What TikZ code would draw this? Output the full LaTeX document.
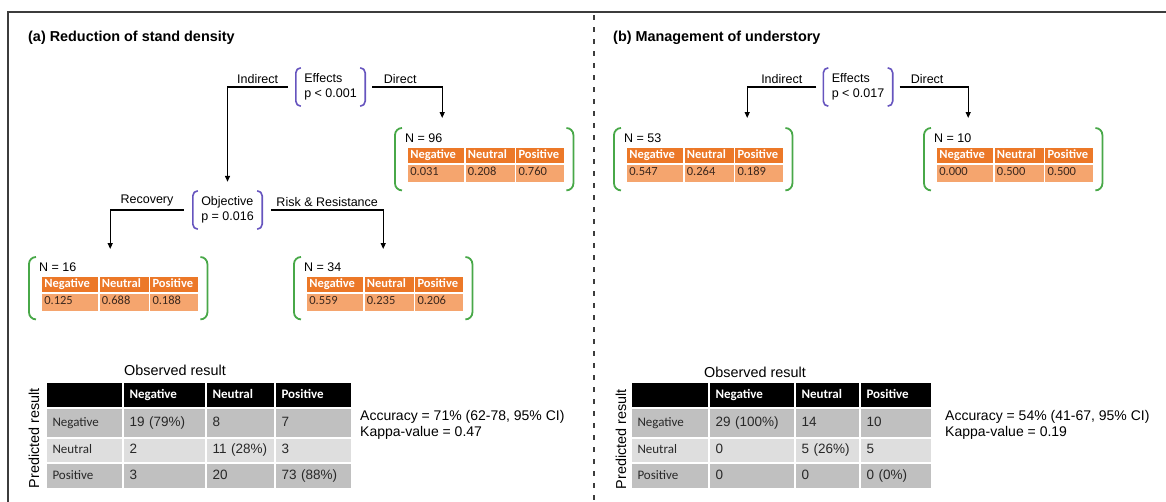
\documentclass[tikz,border=0pt]{standalone}
\usepackage{fontspec}
\setmainfont{Liberation Sans}
\newfontfamily\carlito{Carlito}
\usetikzlibrary{arrows.meta,matrix}

\definecolor{splitcol}{RGB}{102,84,190}
\definecolor{leafcol}{RGB}{72,168,72}
\definecolor{headorange}{RGB}{236,120,40}
\definecolor{valorange}{RGB}{245,165,110}
\definecolor{valtext}{RGB}{60,40,30}
\definecolor{rowdark}{RGB}{192,192,192}
\definecolor{rowlight}{RGB}{222,222,222}
\definecolor{celltext}{RGB}{40,40,40}
\definecolor{framecol}{RGB}{60,60,60}

\tikzset{
  txt/.style={font=\fontsize{12.5}{14.5}\selectfont, inner sep=1pt},
  split/.style={txt, align=left, inner xsep=8pt, minimum height=38pt, minimum width=69pt},
  leafbox/.style={minimum width=178pt, minimum height=62pt, inner sep=0pt, anchor=north west},
  arr/.style={line width=1.3pt, -{Triangle[length=6pt,width=5pt]}},
  lbl/.style={txt, above=2pt, pos=#1},
  lbl/.default=0.25,
  tcell/.style={draw=white, line width=0.6pt, inner xsep=3pt, inner ysep=0pt, align=left,
    text height=9pt, text depth=3pt, anchor=north west},
  hcell/.style={tcell, fill=headorange, text=white, minimum height=16pt,
    font=\carlito\bfseries\fontsize{12.5}{14}\selectfont},
  vcell/.style={tcell, fill=valorange, text=valtext, minimum height=18pt,
    font=\carlito\fontsize{12.5}{14}\selectfont},
  bigtxt/.style={font=\fontsize{14.4}{16}\selectfont, inner sep=0pt},
  title/.style={font=\bfseries\fontsize{14.4}{16}\selectfont, inner sep=0pt, anchor=west},
  cmat/.style n args={4}{matrix of nodes, nodes in empty cells, inner sep=0pt, outer sep=0pt,
    anchor=north west,
    nodes={draw=white, line width=1pt, inner xsep=6pt, inner ysep=0pt, align=left,
      text height=9.5pt, text depth=3pt, text=celltext, font=\fontsize{13.5}{15}\selectfont},
    column 1/.style={nodes={text width=#1, font=\carlito\fontsize{13}{15}\selectfont}},
    column 2/.style={nodes={text width=#2}},
    column 3/.style={nodes={text width=#3}},
    column 4/.style={nodes={text width=#4}},
    row 1/.style={nodes={minimum height=25pt, fill=black, text=white,
      font=\carlito\bfseries\fontsize{13}{15}\selectfont}},
    row 2/.style={nodes={minimum height=29pt, fill=rowdark}},
    row 3/.style={nodes={minimum height=24pt, fill=rowlight}},
    row 4/.style={nodes={minimum height=25pt, fill=rowdark}}},
}

% pair of round brackets around a node: node, colour, hook, width
\newcommand{\bracketpair}[4]{%
  \draw[#2, line width=#4, rounded corners=#3]
    ([xshift=#3]#1.north west) -- (#1.north west) -- (#1.south west) -- ([xshift=#3]#1.south west)
    ([xshift=-#3]#1.north east) -- (#1.north east) -- (#1.south east) -- ([xshift=-#3]#1.south east);
}

% terminal node of the tree: name, top left corner, N, three proportions
\newcommand{\leafnode}[6]{%
  \node[leafbox] (#1) at (#2) {};
  \node[txt, anchor=west] (#1n) at ([xshift=9pt,yshift=-10pt]#1.north west) {N = #3};
  \node[hcell, text width=51pt] (#1h1) at ([xshift=12pt,yshift=-19pt]#1.north west) {Negative};
  \node[hcell, text width=44pt] (#1h2) at (#1h1.north east) {Neutral};
  \node[hcell, text width=43pt] (#1h3) at (#1h2.north east) {Positive};
  \node[vcell, text width=51pt] (#1v1) at (#1h1.south west) {#4};
  \node[vcell, text width=44pt] (#1v2) at (#1h2.south west) {#5};
  \node[vcell, text width=43pt] (#1v3) at (#1h3.south west) {#6};
  \bracketpair{#1}{leafcol}{7pt}{1.8pt}
}

\begin{document}
\begin{tikzpicture}[x=1pt, y=-1pt]
\useasboundingbox (0,0) rectangle (1166,501);

% frame and divider
\draw[framecol, line width=1.6pt] (8,502) -- (8,12) -- (1167,12);
\draw[framecol, line width=1.3pt, dash pattern=on 5pt off 7pt] (594,15) -- (594,501);

%% (a) reduction of stand density
\node[title] (titleA) at (28,38) {(a) Reduction of stand density};

\node[split] (effA) at (330.5,87) {Effects\\p < 0.001};
\node[split] (objA) at (227.5,210) {Objective\\p = 0.016};
\bracketpair{effA}{splitcol}{5pt}{1.6pt}
\bracketpair{objA}{splitcol}{5pt}{1.6pt}

\leafnode{leafA1}{395,128}{96}{0.031}{0.208}{0.760}
\leafnode{leafA2}{29,257}{16}{0.125}{0.688}{0.188}
\leafnode{leafA3}{294,257}{34}{0.559}{0.235}{0.206}

\draw[arr] ([xshift=-8pt]effA.west) -| node[lbl] {Indirect} ([yshift=9pt]objA.north);
\draw[arr] ([xshift=7pt]effA.east) -| node[lbl=0.2] {Direct} ([xshift=-42pt,yshift=10pt]leafA1.north);
\draw[arr] ([xshift=-9pt]objA.west) -| node[lbl] {Recovery} ([xshift=-8pt,yshift=8pt]leafA2.north);
\draw[arr] ([xshift=9pt]objA.east) -| node[lbl] {Risk \& Resistance} ([yshift=8pt]leafA3.north);

\node[bigtxt, anchor=west] (obsA) at (124,370) {Observed result};
\node[bigtxt, rotate=90] (predA) at (34,438) {Predicted result};
\matrix[cmat={64pt}{70pt}{56pt}{64pt}] (cmA) at (46,382) {
           & Negative  & Neutral   & Positive  \\
  Negative & 19 (79\%) & 8         & 7         \\
  Neutral  & 2         & 11 (28\%) & 3         \\
  Positive & 3         & 20        & 73 (88\%) \\
};
\node[bigtxt, anchor=west, align=left, font=\fontsize{14}{15.5}\selectfont] (accA) at (360,425)
  {Accuracy = 71\% (62-78, 95\% CI)\\Kappa-value = 0.47};

%% (b) management of understory
\node[title] (titleB) at (613,38) {(b) Management of understory};

\node[split] (effB) at (858,87) {Effects\\p < 0.017};
\bracketpair{effB}{splitcol}{5pt}{1.6pt}

\leafnode{leafB1}{614,128}{53}{0.547}{0.264}{0.189}
\leafnode{leafB2}{924,128}{10}{0.000}{0.500}{0.500}

\draw[arr] ([xshift=-7pt]effB.west) -| node[lbl] {Indirect} ([xshift=44pt,yshift=10pt]leafB1.north);
\draw[arr] ([xshift=7pt]effB.east) -| node[lbl=0.2] {Direct} ([xshift=-45pt,yshift=10pt]leafB2.north);

\node[bigtxt, anchor=west] (obsB) at (704,372) {Observed result};
\node[bigtxt, rotate=90] (predB) at (621,439) {Predicted result};
\matrix[cmat={65pt}{73pt}{52pt}{59pt}] (cmB) at (631,382) {
           & Negative   & Neutral  & Positive \\
  Negative & 29 (100\%) & 14       & 10       \\
  Neutral  & 0          & 5 (26\%) & 5        \\
  Positive & 0          & 0        & 0 (0\%)  \\
};
\node[bigtxt, anchor=west, align=left, font=\fontsize{14}{15.5}\selectfont] (accB) at (945,425)
  {Accuracy = 54\% (41-67, 95\% CI)\\Kappa-value = 0.19};
\end{tikzpicture}
\end{document}
